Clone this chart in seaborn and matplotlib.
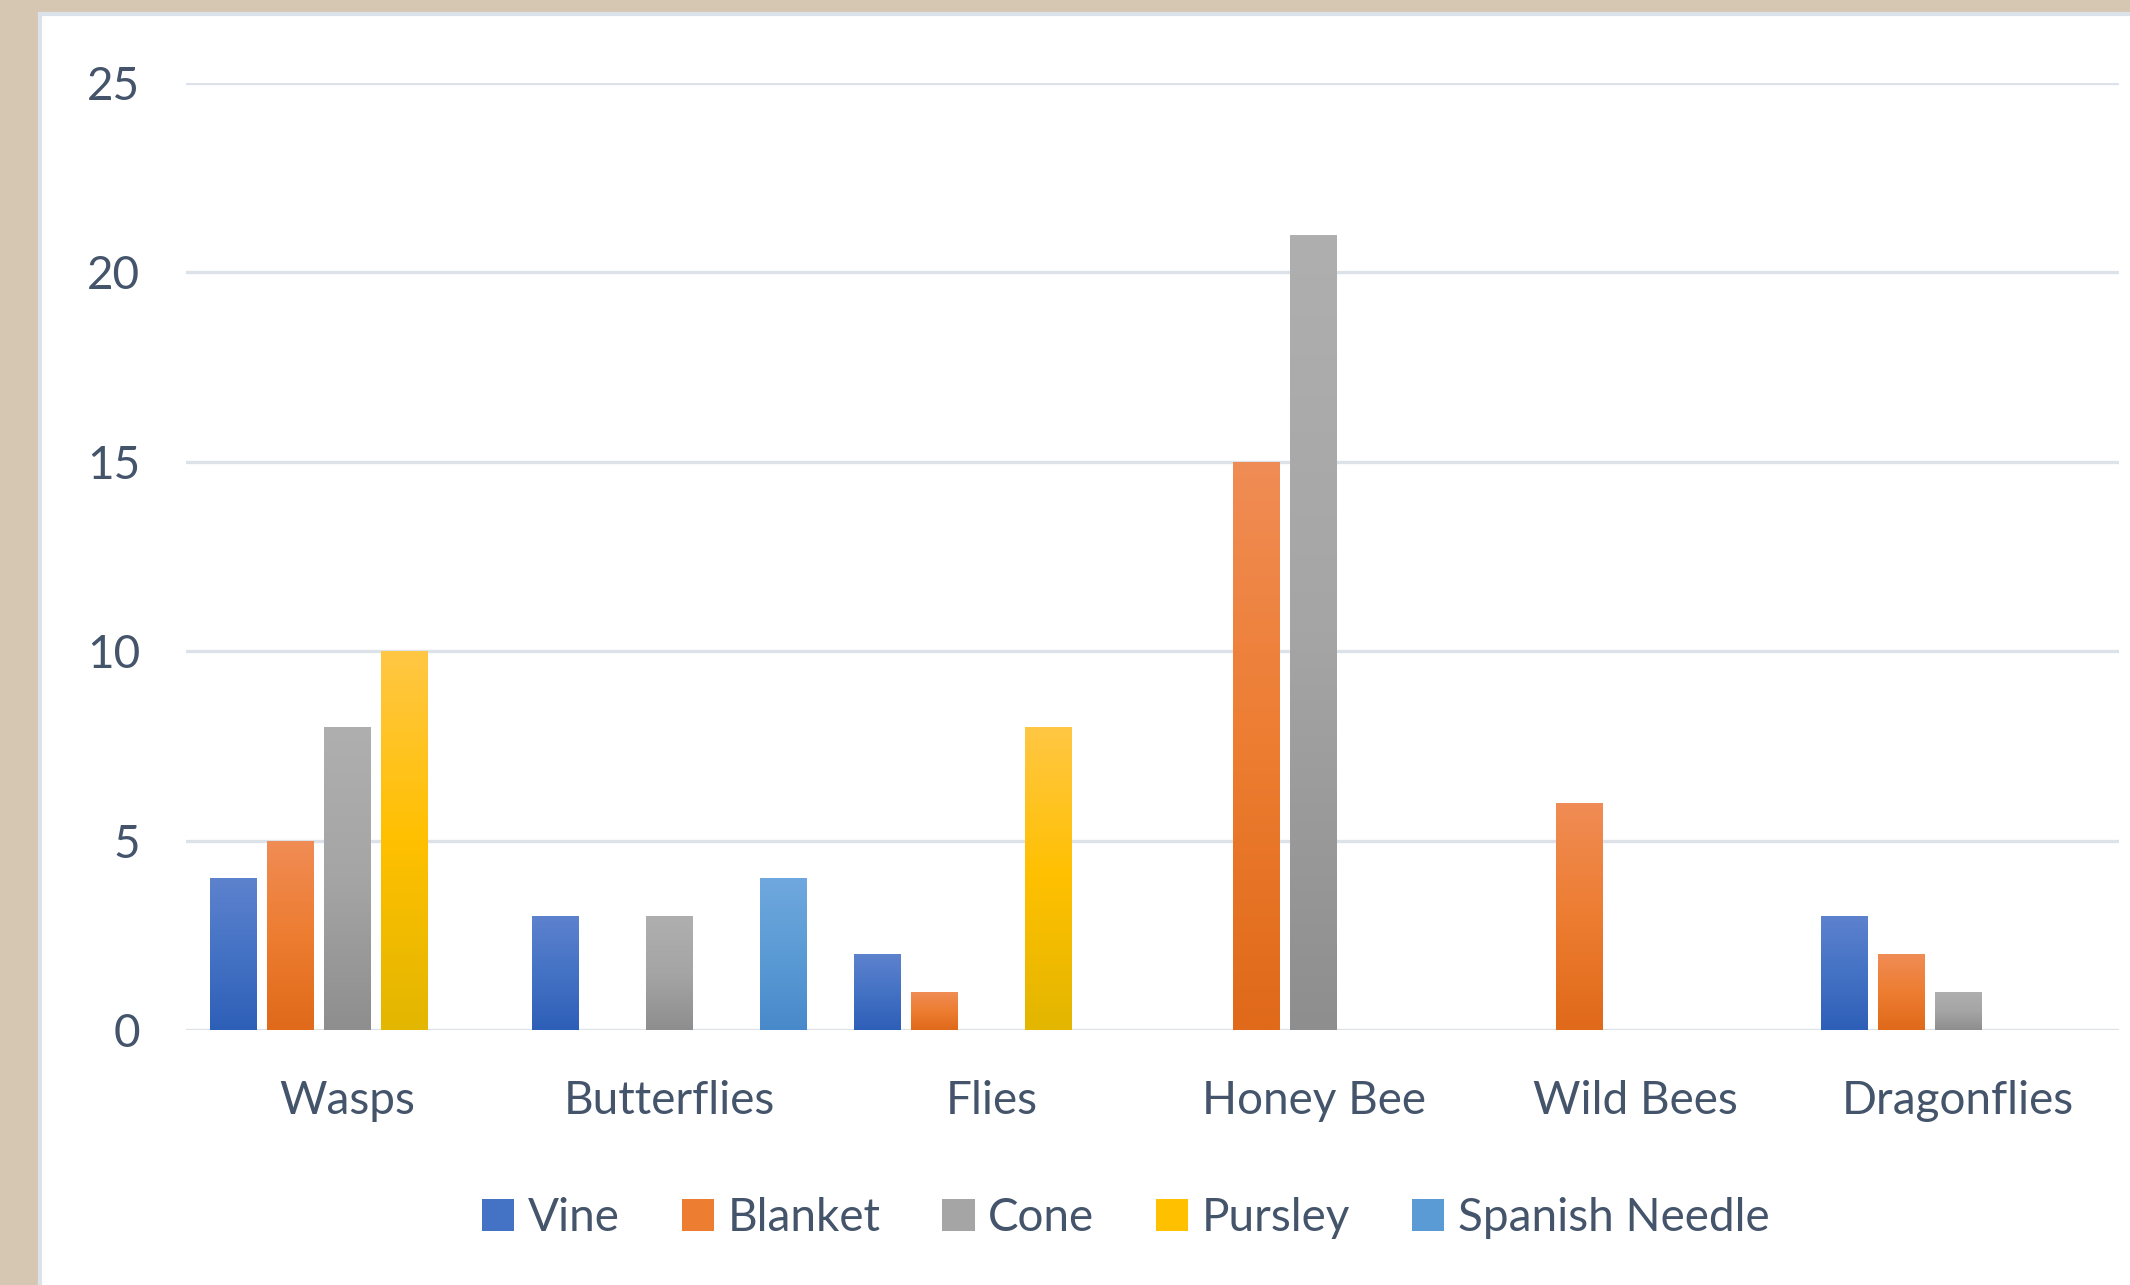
import numpy as np
import pandas as pd
import matplotlib
matplotlib.use("Agg")
import matplotlib.pyplot as plt
import matplotlib.patches as mpatches
from matplotlib.colors import LinearSegmentedColormap
import seaborn as sns

# ---- data ----
insects = ["Wasps", "Butterflies", "Flies", "Honey Bee", "Wild Bees", "Dragonflies"]
series = ["Vine", "Blanket", "Cone", "Pursley", "Spanish Needle"]
vine = [4, 3, 2, 0, 0, 3]
blanket = [5, 0, 1, 15, 6, 2]
cone = [8, 3, 0, 21, 0, 1]
pursley = [10, 0, 8, 0, 0, 0]
spanish_needle = [0, 4, 0, 0, 0, 0]
yticks = [0, 5, 10, 15, 20, 25]

values = [vine, blanket, cone, pursley, spanish_needle]
df = pd.DataFrame({
    "Insect": [ins for s in series for ins in insects],
    "Series": [s for s in series for _ in insects],
    "Count": [v for vals in values for v in vals],
})

base_colors = ["#4472C4", "#ED7D31", "#A5A5A5", "#FFC000", "#5B9BD5"]
grad = {
    "#4472C4": ("#2E5FB8", "#5D82CE"),
    "#ED7D31": ("#E0691A", "#F08C55"),
    "#A5A5A5": ("#8E8E8E", "#AFAFAF"),
    "#FFC000": ("#E3B600", "#FFC744"),
    "#5B9BD5": ("#4889CB", "#6FA8DE"),
}

text_color = "#44546A"
grid_color = "#DDE2E9"
fs = 33

sns.set_theme(style="white")
plt.rcParams["font.family"] = ["Lato", "DejaVu Sans"]

fig = plt.figure(figsize=(21.3, 12.85), dpi=100)
fig.patch.set_facecolor("#D6C7B3")
# white chart panel
panel = mpatches.Rectangle((40 / 2130, -0.01), 1.0, 1.01 - 14 / 1285, transform=fig.transFigure,
                           facecolor="white", edgecolor="#DCE2EA", linewidth=3, zorder=-10)
fig.patches.append(panel)

ax = fig.add_axes([186 / 2130, 1 - 1030 / 1285, (2119 - 186) / 2130, (1030 - 83) / 1285])
ax.set_facecolor("none")
ax.set_zorder(1)

sns.barplot(data=df, x="Insect", y="Count", hue="Series", hue_order=series,
            palette=base_colors, width=0.886, gap=0.19, linewidth=0, ax=ax,
            legend=True, zorder=3)

ax.set_ylim(0, 25)
ax.set_xlim(-0.5, len(insects) - 0.5)
ax.set_autoscale_on(False)

# gradient fills over bars
for container, c in zip(ax.containers, base_colors):
    dark, light = grad[c]
    cmap = LinearSegmentedColormap.from_list("g", [dark, c, light])
    for p in container.patches:
        x0, y0 = p.get_x(), p.get_y()
        w, h = p.get_width(), p.get_height()
        if h <= 0:
            continue
        g = np.linspace(0, 1, 256).reshape(-1, 1)
        im = ax.imshow(g, cmap=cmap, origin="lower", aspect="auto",
                       extent=(x0, x0 + w, y0, y0 + h), zorder=3.5)
        im.set_clip_path(p)

ax.set_yticks(yticks)
ax.set_yticklabels([str(t) for t in yticks])
ax.yaxis.grid(True, color=grid_color, linewidth=2.4)
ax.xaxis.grid(False)
ax.set_axisbelow(True)
for s in ax.spines.values():
    s.set_visible(False)
ax.tick_params(axis="y", length=0, pad=33, labelsize=fs, labelcolor=text_color)
ax.tick_params(axis="x", length=0, pad=36, labelsize=fs, labelcolor=text_color)
ax.set_xlabel("")
ax.set_ylabel("")

leg = ax.get_legend()
handles = [mpatches.Patch(facecolor=c, edgecolor="none") for c in base_colors]
if leg is not None:
    leg.remove()
fig.legend(handles, series, loc="center", bbox_to_anchor=(1126 / 2130, 1 - 1218 / 1285),
           ncol=5, frameon=False, fontsize=fs, labelcolor=text_color,
           handlelength=0.7, handleheight=0.7, handletextpad=0.3, columnspacing=1.35)

fig.savefig("out.png", dpi=100, facecolor=fig.get_facecolor())
